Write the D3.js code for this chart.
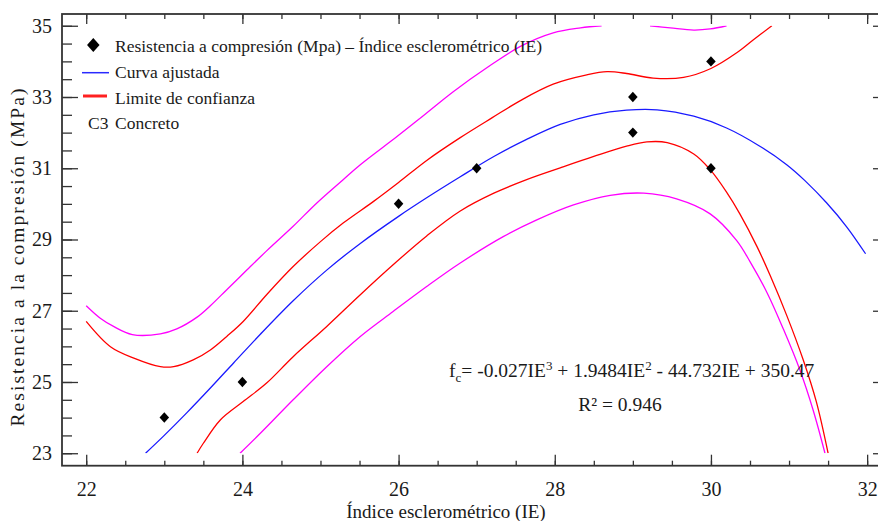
<!DOCTYPE html>
<html>
<head>
<meta charset="utf-8">
<script src="https://cdn.jsdelivr.net/npm/d3@7"></script>
<style>
  html, body { margin: 0; padding: 0; background: #fff; }
  svg { display: block; }
  text { font-family: "Liberation Serif", "Times New Roman", serif; fill: #1a1a1a; }
</style>
</head>
<body>
<svg id="chart" width="878" height="521"></svg>
<script>
// ---- Data ----
const pointIE = [23, 24, 26, 27, 29, 29, 30, 30];
const pointFc = [24, 25, 30, 31, 33, 32, 34, 31];

const fittedCurve = [[22.76,23.0],[22.99,23.48],[23.29,24.14],[23.59,24.83],[23.89,25.54],[24.23,26.34],[24.65,27.28],[25.08,28.14],[25.51,28.89],[26.0,29.65],[26.36,30.17],[26.79,30.76],[27.22,31.33],[27.64,31.81],[28.07,32.23],[28.5,32.5],[28.92,32.63],[29.31,32.64],[29.78,32.46],[30.2,32.13],[30.61,31.64],[30.97,31.1],[31.2,30.66],[31.48,30.03],[31.74,29.35],[31.98,28.6]];

const upperConfidence = [[22.0,26.70],[22.31,25.99],[22.61,25.67],[22.95,25.43],[23.12,25.43],[23.37,25.62],[23.59,25.90],[23.8,26.28],[24.01,26.70],[24.31,27.45],[24.65,28.24],[25.0,28.94],[25.29,29.46],[25.68,30.07],[26.0,30.6],[26.36,31.22],[26.79,31.86],[27.2,32.42],[27.56,32.9],[27.98,33.36],[28.41,33.62],[28.67,33.71],[28.92,33.66],[29.26,33.53],[29.65,33.55],[30.0,33.8],[30.33,34.24],[30.54,34.6],[30.78,35.0]];

const lowerConfidence = [[23.42,23.0],[23.50,23.28],[23.72,23.94],[24.01,24.45],[24.31,24.97],[24.65,25.71],[25.08,26.56],[25.51,27.45],[25.93,28.29],[26.36,29.1],[26.79,29.8],[27.22,30.3],[27.64,30.68],[28.07,31.01],[28.5,31.33],[28.92,31.62],[29.18,31.74],[29.44,31.72],[29.78,31.4],[29.99,30.96],[30.2,30.33],[30.37,29.72],[30.59,28.8],[30.76,27.98],[30.97,26.87],[31.18,25.63],[31.35,24.44],[31.5,23.0]];

// null marks where the curve leaves the plotted range (above 35)
const upperPrediction = [[22.0,27.14],[22.18,26.79],[22.35,26.56],[22.59,26.33],[22.95,26.35],[23.16,26.49],[23.42,26.82],[23.59,27.14],[23.8,27.59],[24.06,28.15],[24.31,28.68],[24.65,29.37],[24.95,30.02],[25.29,30.68],[25.51,31.1],[25.98,31.89],[26.28,32.41],[26.70,33.15],[27.13,33.82],[27.56,34.42],[27.98,34.8],[28.33,34.94],[28.6,35.0],null,[29.22,35.0],[29.48,34.94],[29.78,34.88],[29.99,34.91],[30.2,35.0]];

const lowerPrediction = [[23.97,23.0],[24.23,23.56],[24.65,24.50],[25.08,25.43],[25.51,26.28],[25.93,26.98],[26.36,27.68],[26.79,28.34],[27.34,29.08],[27.77,29.55],[28.24,29.97],[28.71,30.24],[29.14,30.30],[29.56,30.14],[29.99,29.72],[30.33,28.97],[30.5,28.38],[30.72,27.5],[30.93,26.47],[31.14,25.33],[31.31,24.2],[31.46,23.0]];

const xTickLabels = [22, 24, 26, 28, 30, 32];
const yTickLabels = [23, 25, 27, 29, 31, 33, 35];
const xMinorTicks = d3.range(22, 32.01, 0.5);
const yMinorTicks = d3.range(23, 35.01, 0.5);

const legendLabels = ["Resistencia a compresión (Mpa) – Índice esclerométrico (IE)", "Curva ajustada", "Limite de confianza", "Concreto"];
const xTitle = "Índice esclerométrico (IE)";
const yTitle = "Resistencia a la compresión (MPa)";

// ---- Layout ----
const svg = d3.select("#chart");
const pLeft = 62, pRight = 889, pTop = 14, pBottom = 465.7;
const x = d3.scaleLinear().domain([21.69, 32.28]).range([pLeft, pRight]);
const y = d3.scaleLinear().domain([22.65, 35.33]).range([pBottom, pTop]);

const axisColor = "#333";

svg.append("defs").append("clipPath").attr("id", "plotclip")
  .append("rect")
  .attr("x", pLeft).attr("y", y(35))
  .attr("width", pRight - pLeft).attr("height", y(23) - y(35));

// ---- Axes ----
function styleAxis(g) {
  g.select(".domain").remove();
  g.selectAll(".tick line").attr("stroke", axisColor).attr("stroke-width", 1.3);
  g.selectAll(".tick text").style("font-family", '"Liberation Serif", "Times New Roman", serif')
    .style("font-size", "20px").attr("fill", "#1a1a1a");
}

// left
svg.append("g").attr("transform", `translate(${pLeft},0)`)
  .call(d3.axisLeft(y).tickValues(yMinorTicks).tickSizeInner(-10).tickSizeOuter(0).tickFormat(""))
  .call(styleAxis);
svg.append("g").attr("transform", `translate(${pLeft},0)`)
  .call(d3.axisLeft(y).tickValues(yTickLabels).tickSizeInner(-16).tickSizeOuter(0).tickPadding(10).tickFormat(d3.format("d")))
  .call(styleAxis);
// right
svg.append("g").attr("transform", `translate(${pRight},0)`)
  .call(d3.axisRight(y).tickValues(yMinorTicks).tickSizeInner(-10).tickSizeOuter(0).tickFormat(""))
  .call(styleAxis);
svg.append("g").attr("transform", `translate(${pRight},0)`)
  .call(d3.axisRight(y).tickValues(yTickLabels).tickSizeInner(-16).tickSizeOuter(0).tickFormat(""))
  .call(styleAxis);
// bottom
svg.append("g").attr("transform", `translate(0,${pBottom})`)
  .call(d3.axisBottom(x).tickValues(xMinorTicks).tickSizeInner(-5).tickSizeOuter(0).tickFormat(""))
  .call(styleAxis);
svg.append("g").attr("transform", `translate(0,${pBottom})`)
  .call(d3.axisBottom(x).tickValues(xTickLabels).tickSizeInner(-11).tickSizeOuter(0).tickPadding(16).tickFormat(d3.format("d")))
  .call(styleAxis);
// top
svg.append("g").attr("transform", `translate(0,${pTop})`)
  .call(d3.axisTop(x).tickValues(xMinorTicks).tickSizeInner(-5).tickSizeOuter(0).tickFormat(""))
  .call(styleAxis);
svg.append("g").attr("transform", `translate(0,${pTop})`)
  .call(d3.axisTop(x).tickValues(xTickLabels).tickSizeInner(-10).tickSizeOuter(0).tickFormat(""))
  .call(styleAxis);

// frame
svg.append("rect").attr("x", pLeft).attr("y", pTop)
  .attr("width", pRight - pLeft).attr("height", pBottom - pTop)
  .attr("fill", "none").attr("stroke", axisColor).attr("stroke-width", 1.8);

// ---- Curves ----
const line = d3.line()
  .defined(d => d !== null)
  .x(d => x(d[0])).y(d => y(d[1]))
  .curve(d3.curveCatmullRom.alpha(0.5));

const plot = svg.append("g").attr("clip-path", "url(#plotclip)");
const curves = [
  { data: upperPrediction, color: "#ff00ff" },
  { data: lowerPrediction, color: "#ff00ff" },
  { data: upperConfidence, color: "#ff0000" },
  { data: lowerConfidence, color: "#ff0000" },
  { data: fittedCurve, color: "#1a1aff" }
];
plot.selectAll("path.curve").data(curves).join("path")
  .attr("class", "curve")
  .attr("d", c => line(c.data))
  .attr("fill", "none")
  .attr("stroke", c => c.color)
  .attr("stroke-width", 1.3);

// ---- Points ----
const diamond = d3.symbol().type(d3.symbolDiamond2);
svg.append("g").selectAll("path").data(pointIE.map((v, i) => [v, pointFc[i]])).join("path")
  .attr("transform", d => `translate(${x(d[0])},${y(d[1])}) scale(1,1.1)`)
  .attr("d", diamond.size(58)())
  .attr("fill", "#000");

// ---- Legend ----
const lg = svg.append("g");
const lx = 115, fs = "17.5px";
lg.append("path").attr("transform", "translate(93.3,45) scale(1,1.1)")
  .attr("d", diamond.size(100)()).attr("fill", "#000");
lg.append("text").attr("x", lx).attr("y", 51.7).style("font-size", fs).text(legendLabels[0]);
lg.append("line").attr("x1", 82).attr("x2", 109).attr("y1", 72.7).attr("y2", 72.7)
  .attr("stroke", "#2a2aff").attr("stroke-width", 1.5);
lg.append("text").attr("x", lx).attr("y", 78.3).style("font-size", fs).text(legendLabels[1]);
lg.append("line").attr("x1", 83).attr("x2", 107).attr("y1", 96).attr("y2", 96)
  .attr("stroke", "#ff2020").attr("stroke-width", 3);
lg.append("text").attr("x", lx).attr("y", 103.5).style("font-size", fs).text(legendLabels[2]);
lg.append("text").attr("x", 88).attr("y", 129.3).style("font-size", fs).text("C3");
lg.append("text").attr("x", lx).attr("y", 129.3).style("font-size", fs).text(legendLabels[3]);

// ---- Equation ----
const eq = svg.append("text").attr("x", 449).attr("y", 377).style("font-size", "19.5px");
eq.append("tspan").text("f");
eq.append("tspan").attr("dy", 5).style("font-size", "13px").text("c");
eq.append("tspan").attr("dy", -5).text("= -0.027IE");
eq.append("tspan").attr("dy", -7).style("font-size", "13px").text("3");
eq.append("tspan").attr("dy", 7).text(" + 1.9484IE");
eq.append("tspan").attr("dy", -7).style("font-size", "13px").text("2");
eq.append("tspan").attr("dy", 7).text(" - 44.732IE + 350.47");

svg.append("text").attr("x", 620).attr("y", 411).attr("text-anchor", "middle")
  .style("font-size", "19.5px").text("R² = 0.946");

// ---- Axis titles ----
svg.append("text").attr("x", 446).attr("y", 518).attr("text-anchor", "middle")
  .style("font-size", "19px").text(xTitle);
svg.append("text").attr("transform", "translate(24,257.5) rotate(-90)")
  .attr("text-anchor", "middle")
  .attr("textLength", 338).attr("lengthAdjust", "spacing")
  .style("font-size", "19.5px").text(yTitle);
</script>
</body>
</html>
